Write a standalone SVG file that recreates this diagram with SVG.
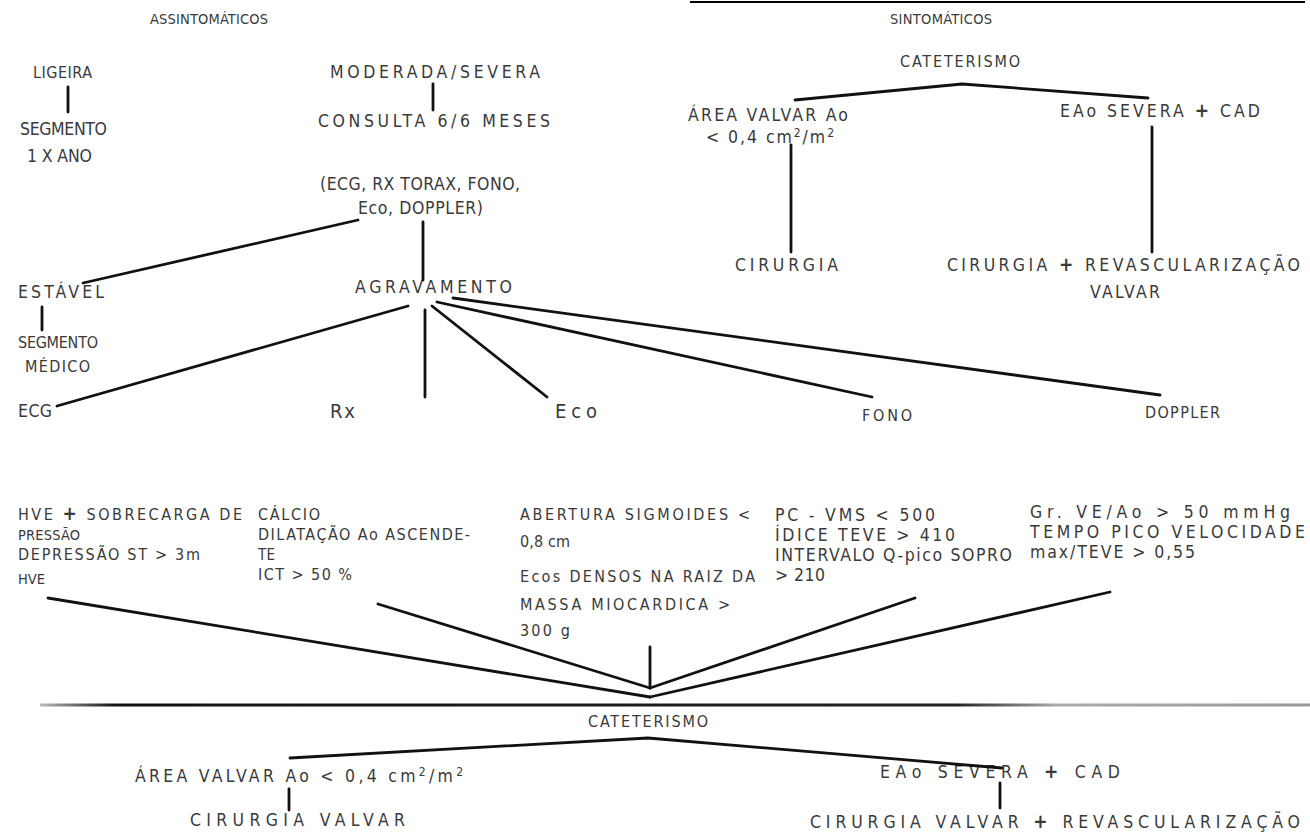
<svg xmlns="http://www.w3.org/2000/svg" width="1310" height="835" viewBox="0 0 1310 835">
<style>
text { font-family: "DejaVu Sans Condensed", "Liberation Sans", sans-serif; font-size: 17.5px; fill: #3a3a3a; }
.sm { font-size: 14.5px; }
.md { font-size: 16px; }
.xs { font-size: 14.5px; }
.te { font-size: 15px; }
.big { font-size: 20px; }
.ln { stroke: #111; stroke-width: 2.8; fill: none; stroke-linecap: round; stroke-linejoin: round; }
.sup { font-size: 12px; }
.pl { font-weight: bold; font-size: 19px; }
</style>
<defs>
<linearGradient id="hg" x1="40" y1="0" x2="1310" y2="0" gradientUnits="userSpaceOnUse">
<stop offset="0" stop-color="#bbb"/>
<stop offset="0.06" stop-color="#111"/>
<stop offset="0.72" stop-color="#222"/>
<stop offset="0.8" stop-color="#aaa"/>
<stop offset="1" stop-color="#999"/>
</linearGradient>
</defs>
<rect width="1310" height="835" fill="#fff"/>
<line x1="690" y1="2" x2="1305" y2="2" stroke="#000" stroke-width="2"/>

<g id="n-assint"><text class="sm" x="150" y="24" textLength="118" lengthAdjust="spacing">ASSINTOMÁTICOS</text></g>
<g id="n-sint"><text class="sm" x="890" y="24" textLength="102" lengthAdjust="spacing">SINTOMÁTICOS</text></g>
<g id="n-cat1"><text class="md" x="900" y="67" textLength="120" lengthAdjust="spacing">CATETERISMO</text></g>
<g id="n-ligeira"><text class="md" x="33" y="78" textLength="59" lengthAdjust="spacing">LIGEIRA</text></g>
<g id="n-seg1"><text x="20" y="135" textLength="87" lengthAdjust="spacing">SEGMENTO</text><text x="27" y="162" textLength="65" lengthAdjust="spacing">1 X ANO</text></g>
<g id="n-mod"><text x="330" y="78" textLength="210" lengthAdjust="spacing">MODERADA/SEVERA</text></g>
<g id="n-consulta"><text x="318" y="127" textLength="232" lengthAdjust="spacing">CONSULTA 6/6 MESES</text></g>
<g id="n-exames"><text x="320" y="190" textLength="200" lengthAdjust="spacing">(ECG, RX TORAX, FONO,</text><text x="358" y="214" textLength="125" lengthAdjust="spacing">Eco, DOPPLER)</text></g>
<g id="n-estavel"><text x="18" y="298" textLength="86" lengthAdjust="spacing">ESTÁVEL</text></g>
<g id="n-segmed"><text class="md" x="18" y="348" textLength="80" lengthAdjust="spacing">SEGMENTO</text><text class="md" x="25" y="372" textLength="65" lengthAdjust="spacing">MÉDICO</text></g>
<g id="n-agrav"><text x="355" y="293" textLength="157" lengthAdjust="spacing">AGRAVAMENTO</text></g>
<g id="n-ecg"><text x="18" y="417" textLength="34" lengthAdjust="spacing">ECG</text></g>
<g id="n-rx"><text class="big" x="330" y="418" textLength="25" lengthAdjust="spacing">Rx</text></g>
<g id="n-eco"><text class="big" x="555" y="418" textLength="42" lengthAdjust="spacing">Eco</text></g>
<g id="n-fono"><text class="md" x="862" y="421" textLength="50" lengthAdjust="spacing">FONO</text></g>
<g id="n-doppler"><text class="md" x="1145" y="418" textLength="75" lengthAdjust="spacing">DOPPLER</text></g>

<g id="n-area1"><text x="688" y="121" textLength="160" lengthAdjust="spacing">ÁREA VALVAR Ao</text><text x="706" y="143" textLength="128" lengthAdjust="spacing">&lt; 0,4 cm<tspan class="sup" dy="-6">2</tspan><tspan dy="6">/m</tspan><tspan class="sup" dy="-6">2</tspan></text></g>
<g id="n-eao1"><text x="1060" y="117" textLength="200" lengthAdjust="spacing">EAo SEVERA <tspan class="pl">+</tspan> CAD</text></g>
<g id="n-cir1"><text x="735" y="271" textLength="103" lengthAdjust="spacing">CIRURGIA</text></g>
<g id="n-cir2"><text x="947" y="271" textLength="353" lengthAdjust="spacing">CIRURGIA <tspan class="pl">+</tspan> REVASCULARIZAÇÃO</text><text x="1090" y="298" textLength="70" lengthAdjust="spacing">VALVAR</text></g>

<g id="n-hve">
<text class="md" x="18" y="520" textLength="224" lengthAdjust="spacing">HVE <tspan class="pl">+</tspan> SOBRECARGA DE</text>
<text class="xs" x="18" y="540" textLength="62" lengthAdjust="spacing">PRESSÃO</text>
<text class="md" x="18" y="560" textLength="182" lengthAdjust="spacing">DEPRESSÃO ST &gt; 3m</text>
<text class="xs" x="18" y="584" textLength="27" lengthAdjust="spacing">HVE</text>
</g>
<g id="n-calcio">
<text class="md" x="258" y="520" textLength="62" lengthAdjust="spacing">CÁLCIO</text>
<text class="md" x="258" y="540" textLength="212" lengthAdjust="spacing">DILATAÇÃO Ao ASCENDE-</text>
<text class="te" x="258" y="560" textLength="17" lengthAdjust="spacing">TE</text>
<text class="md" x="258" y="580" textLength="94" lengthAdjust="spacing">ICT &gt; 50 %</text>
</g>
<g id="n-abertura">
<text class="md" x="520" y="520" textLength="230" lengthAdjust="spacing">ABERTURA SIGMOIDES &lt;</text>
<text class="md" x="520" y="547" textLength="50" lengthAdjust="spacing">0,8 cm</text>
<text class="md" x="520" y="582" textLength="235" lengthAdjust="spacing">Ecos DENSOS NA RAIZ DA</text>
<text class="md" x="520" y="610" textLength="210" lengthAdjust="spacing">MASSA MIOCARDICA &gt;</text>
<text class="md" x="520" y="636" textLength="50" lengthAdjust="spacing">300 g</text>
</g>
<g id="n-pc">
<text x="775" y="521" textLength="160" lengthAdjust="spacing">PC - VMS &lt; 500</text>
<text x="775" y="541" textLength="180" lengthAdjust="spacing">ÍDICE TEVE &gt; 410</text>
<text x="775" y="561" textLength="237" lengthAdjust="spacing">INTERVALO Q-pico SOPRO</text>
<text x="775" y="581" textLength="50" lengthAdjust="spacing">&gt; 210</text>
</g>
<g id="n-gr">
<text x="1030" y="518" textLength="260" lengthAdjust="spacing">Gr. VE/Ao &gt; 50 mmHg</text>
<text x="1030" y="538" textLength="275" lengthAdjust="spacing">TEMPO PICO VELOCIDADE</text>
<text x="1030" y="558" textLength="165" lengthAdjust="spacing">max/TEVE &gt; 0,55</text>
</g>

<g id="n-cat2"><text class="md" x="588" y="727" textLength="120" lengthAdjust="spacing">CATETERISMO</text></g>
<g id="n-area2"><text x="135" y="782" textLength="328" lengthAdjust="spacing">ÁREA VALVAR Ao &lt; 0,4 cm<tspan class="sup" dy="-6">2</tspan><tspan dy="6">/m</tspan><tspan class="sup" dy="-6">2</tspan></text></g>
<g id="n-cirv"><text x="190" y="826" textLength="215" lengthAdjust="spacing">CIRURGIA VALVAR</text></g>
<g id="n-eao2"><text x="880" y="778" textLength="240" lengthAdjust="spacing">EAo SEVERA <tspan class="pl">+</tspan> CAD</text></g>
<g id="n-cirvr"><text x="810" y="828" textLength="490" lengthAdjust="spacing">CIRURGIA VALVAR <tspan class="pl">+</tspan> REVASCULARIZAÇÃO</text></g>

<g id="connectors">
<line class="ln" x1="68" y1="87" x2="68" y2="112"/>
<line class="ln" x1="433" y1="84" x2="433" y2="110"/>
<line class="ln" x1="358" y1="220" x2="83" y2="283" stroke-width="3.6"/>
<line class="ln" x1="423" y1="222" x2="423" y2="280"/>
<line class="ln" x1="42" y1="307" x2="42" y2="330"/>
<line class="ln" x1="408" y1="306" x2="57" y2="406"/>
<line class="ln" x1="425" y1="310" x2="425" y2="397"/>
<line class="ln" x1="432" y1="306" x2="547" y2="397"/>
<line class="ln" x1="437" y1="302" x2="872" y2="397"/>
<line class="ln" x1="453" y1="298" x2="1160" y2="395"/>
<polyline class="ln" points="795,100 962,84 1148,98" stroke-width="3.4"/>
<line class="ln" x1="791" y1="145" x2="791" y2="252"/>
<line class="ln" x1="1152" y1="127" x2="1152" y2="252"/>
<line class="ln" x1="48" y1="598" x2="650" y2="697"/>
<line class="ln" x1="378" y1="604" x2="650" y2="688"/>
<line class="ln" x1="650" y1="647" x2="650" y2="688" stroke-width="2"/>
<line class="ln" x1="915" y1="598" x2="650" y2="688"/>
<line class="ln" x1="1110" y1="592" x2="650" y2="697"/>
<line x1="40" y1="705" x2="1310" y2="705" stroke="url(#hg)" stroke-width="3.2"/>
<polyline class="ln" points="290,758 648,738 1002,768" stroke-width="3.4"/>
<line class="ln" x1="289" y1="789" x2="289" y2="810"/>
<line class="ln" x1="1000" y1="783" x2="1000" y2="808"/>
</g>
</svg>
